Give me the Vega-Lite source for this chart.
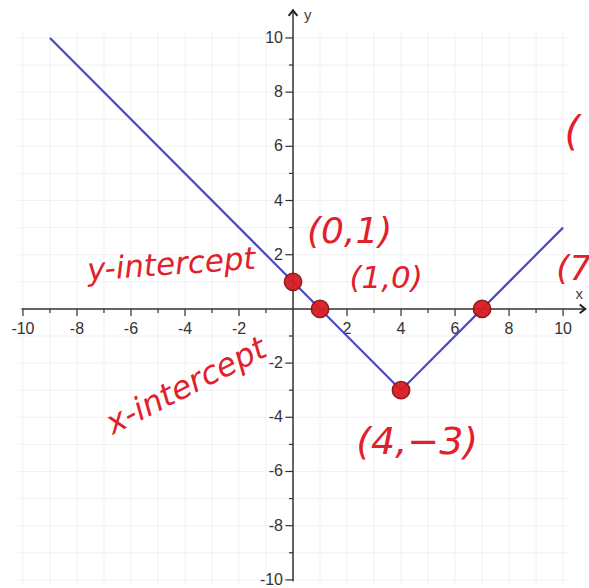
{
  "$schema": "https://vega.github.io/schema/vega-lite/v6.json",
  "width": 589,
  "height": 588,
  "autosize": {"type": "none"},
  "padding": 0,
  "background": "white",
  "config": {"view": {"stroke": null}},
  "datasets": {
    "grid": [
      {"v": -10}, {"v": -9}, {"v": -8}, {"v": -7}, {"v": -6}, {"v": -5}, {"v": -4},
      {"v": -3}, {"v": -2}, {"v": -1}, {"v": 0}, {"v": 1}, {"v": 2}, {"v": 3},
      {"v": 4}, {"v": 5}, {"v": 6}, {"v": 7}, {"v": 8}, {"v": 9}, {"v": 10}
    ],
    "ticks": [
      {"v": -10, "major": true}, {"v": -9, "major": false}, {"v": -8, "major": true},
      {"v": -7, "major": false}, {"v": -6, "major": true}, {"v": -5, "major": false},
      {"v": -4, "major": true}, {"v": -3, "major": false}, {"v": -2, "major": true},
      {"v": -1, "major": false}, {"v": 1, "major": false}, {"v": 2, "major": true},
      {"v": 3, "major": false}, {"v": 4, "major": true}, {"v": 5, "major": false},
      {"v": 6, "major": true}, {"v": 7, "major": false}, {"v": 8, "major": true},
      {"v": 9, "major": false}, {"v": 10, "major": true}
    ],
    "labels": [
      {"v": -10, "t": "-10"}, {"v": -8, "t": "-8"}, {"v": -6, "t": "-6"},
      {"v": -4, "t": "-4"}, {"v": -2, "t": "-2"}, {"v": 2, "t": "2"},
      {"v": 4, "t": "4"}, {"v": 6, "t": "6"}, {"v": 8, "t": "8"}, {"v": 10, "t": "10"}
    ],
    "graph": [
      {"x": -9, "y": 10},
      {"x": 4, "y": -3},
      {"x": 10, "y": 3}
    ],
    "points": [
      {"x": 0, "y": 1},
      {"x": 1, "y": 0},
      {"x": 4, "y": -3},
      {"x": 7, "y": 0}
    ],
    "notes": [
      {"x": -4.5, "y": 1.6, "t": "y-intercept", "size": 31, "angle": -4},
      {"x": 2.1, "y": 2.85, "t": "(0,1)", "size": 36, "angle": 0},
      {"x": 3.45, "y": 1.1, "t": "(1,0)", "size": 31, "angle": 0},
      {"x": -3.95, "y": -2.85, "t": "x-intercept", "size": 32, "angle": -27},
      {"x": 4.6, "y": -4.95, "t": "(4,−3)", "size": 38, "angle": 0}
    ],
    "edgeNotes": [
      {"x": 9.75, "y": 1.45, "t": "(7,0)", "size": 34},
      {"x": 10.05, "y": 6.5, "t": "(", "size": 40}
    ]
  },
  "encoding": {
    "x": {"type": "quantitative", "scale": {"domain": [-10.85, 10.96], "nice": false, "zero": false}, "axis": null},
    "y": {"type": "quantitative", "scale": {"domain": [-10.3, 11.4], "nice": false, "zero": false}, "axis": null}
  },
  "layer": [
    {
      "data": {"name": "grid"},
      "mark": {"type": "rule", "color": "#f0f1f2", "strokeWidth": 1},
      "encoding": {"x": {"field": "v"}, "y": {"datum": -10.2}, "y2": {"datum": 10.2}}
    },
    {
      "data": {"name": "grid"},
      "mark": {"type": "rule", "color": "#f0f1f2", "strokeWidth": 1},
      "encoding": {"y": {"field": "v"}, "x": {"datum": -10.2}, "x2": {"datum": 10.2}}
    },
    {
      "data": {"values": [{}]},
      "mark": {"type": "rule", "color": "#333333", "strokeWidth": 1.5},
      "encoding": {"x": {"datum": -10.05}, "x2": {"datum": 10.85}, "y": {"datum": 0}}
    },
    {
      "data": {"values": [{}]},
      "mark": {"type": "rule", "color": "#333333", "strokeWidth": 1.5},
      "encoding": {"y": {"datum": -10.05}, "y2": {"datum": 11.05}, "x": {"datum": 0}}
    },
    {
      "data": {"values": [{}]},
      "mark": {"type": "point", "shape": "M -1 -0.8 L 0 0 L -1 0.8", "filled": false, "stroke": "#222222", "strokeWidth": 2, "size": 120, "opacity": 1},
      "encoding": {"x": {"datum": 10.82}, "y": {"datum": 0}}
    },
    {
      "data": {"values": [{}]},
      "mark": {"type": "point", "shape": "M -0.8 1 L 0 0 L 0.8 1", "filled": false, "stroke": "#222222", "strokeWidth": 2, "size": 120, "opacity": 1},
      "encoding": {"x": {"datum": 0}, "y": {"datum": 11.02}}
    },
    {
      "data": {"name": "ticks"},
      "transform": [{"filter": "datum.major"}],
      "mark": {"type": "rule", "color": "#333333", "strokeWidth": 1.2},
      "encoding": {"x": {"field": "v"}, "y": {"datum": 0}, "y2": {"datum": -0.26}}
    },
    {
      "data": {"name": "ticks"},
      "transform": [{"filter": "!datum.major"}],
      "mark": {"type": "rule", "color": "#333333", "strokeWidth": 1.2},
      "encoding": {"x": {"field": "v"}, "y": {"datum": 0}, "y2": {"datum": -0.15}}
    },
    {
      "data": {"name": "ticks"},
      "transform": [{"filter": "datum.major"}],
      "mark": {"type": "rule", "color": "#333333", "strokeWidth": 1.2},
      "encoding": {"y": {"field": "v"}, "x": {"datum": 0}, "x2": {"datum": -0.28}}
    },
    {
      "data": {"name": "ticks"},
      "transform": [{"filter": "!datum.major"}],
      "mark": {"type": "rule", "color": "#333333", "strokeWidth": 1.2},
      "encoding": {"y": {"field": "v"}, "x": {"datum": 0}, "x2": {"datum": -0.15}}
    },
    {
      "data": {"name": "labels"},
      "mark": {"type": "text", "font": "Liberation Sans", "fontSize": 16, "color": "#333333", "baseline": "top", "align": "center", "dy": 12},
      "encoding": {"x": {"field": "v"}, "y": {"datum": 0}, "text": {"field": "t"}}
    },
    {
      "data": {"name": "labels"},
      "mark": {"type": "text", "font": "Liberation Sans", "fontSize": 16, "color": "#333333", "baseline": "middle", "align": "right", "dx": -10},
      "encoding": {"y": {"field": "v"}, "x": {"datum": 0}, "text": {"field": "t"}}
    },
    {
      "data": {"values": [{"x": 0.55, "y": 10.85, "t": "y"}, {"x": 10.6, "y": 0.55, "t": "x"}]},
      "mark": {"type": "text", "font": "Liberation Sans", "fontSize": 15, "color": "#444444", "align": "center", "baseline": "middle"},
      "encoding": {"x": {"field": "x"}, "y": {"field": "y"}, "text": {"field": "t"}}
    },
    {
      "data": {"name": "graph"},
      "mark": {"type": "line", "color": "#4a4ac4", "strokeWidth": 2.2},
      "encoding": {"x": {"field": "x"}, "y": {"field": "y"}}
    },
    {
      "data": {"name": "points"},
      "mark": {"type": "point", "shape": "circle", "filled": true, "color": "#d81c22", "stroke": "#8a1010", "strokeWidth": 1.5, "size": 300, "opacity": 0.95},
      "encoding": {"x": {"field": "x"}, "y": {"field": "y"}}
    },
    {
      "data": {"name": "notes"},
      "mark": {"type": "text", "font": "DejaVu Sans", "fontStyle": "italic", "color": "#e2202c", "align": "center", "baseline": "middle"},
      "encoding": {
        "x": {"field": "x"},
        "y": {"field": "y"},
        "text": {"field": "t"},
        "size": {"field": "size", "type": "quantitative", "scale": null},
        "angle": {"field": "angle", "type": "quantitative", "scale": null}
      }
    },
    {
      "data": {"name": "edgeNotes"},
      "mark": {"type": "text", "font": "DejaVu Sans", "fontStyle": "italic", "color": "#e2202c", "align": "left", "baseline": "middle"},
      "encoding": {
        "x": {"field": "x"},
        "y": {"field": "y"},
        "text": {"field": "t"},
        "size": {"field": "size", "type": "quantitative", "scale": null}
      }
    }
  ]
}
